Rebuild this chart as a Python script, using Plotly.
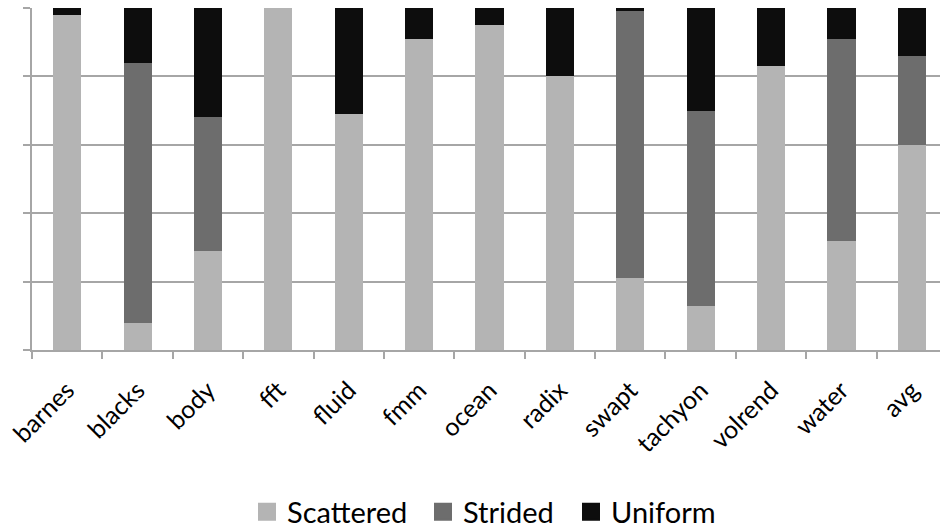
import plotly.graph_objects as go

categories = ["barnes", "blacks", "body", "fft", "fluid", "fmm", "ocean",
              "radix", "swapt", "tachyon", "volrend", "water", "avg"]
scattered = [98, 8, 29, 100, 69, 91, 95, 80, 21, 13, 83, 32, 60]
strided = [0, 76, 39, 0, 0, 0, 0, 0, 78, 57, 0, 59, 26]
uniform = [2, 16, 32, 0, 31, 9, 5, 20, 1, 30, 17, 9, 14]

series = [("Scattered", scattered, "#b4b4b4"),
          ("Strided", strided, "#6d6d6d"),
          ("Uniform", uniform, "#0d0d0d")]
legend_ids = ["legend", "legend2", "legend3"]
legend_x = [247, 423, 571]  # left edges (px) of the legend entries

fig = go.Figure()
for name, vals, color in series:
    fig.add_trace(go.Bar(x=categories, y=vals, name=name, marker_color=color,
                         marker_line_width=0, width=0.4, showlegend=False))
for (name, vals, color), lid in zip(series, legend_ids):
    fig.add_trace(go.Scatter(x=[None], y=[None], mode="markers", name=name, legend=lid,
                             marker=dict(symbol="square", size=16, color=color,
                                         line=dict(width=2, color=color))))

grid = "#a6a6a6"
fig.update_layout(
    width=940, height=529,
    barmode="stack",
    plot_bgcolor="white", paper_bgcolor="white",
    margin=dict(l=32, r=0, t=8, b=179),
    font=dict(family="Lato, Carlito, sans-serif", color="black"),
    xaxis=dict(range=[-0.5, 12.4], showline=True, linecolor=grid, linewidth=1.5,
               ticks="outside", tickson="boundaries", ticklen=7, tickcolor=grid,
               tickwidth=1.5, tickangle=-45, tickfont=dict(size=25, color="black"),
               ticklabelstandoff=14, showgrid=False, automargin=False),
    yaxis=dict(range=[0, 100], dtick=20, showline=True, linecolor=grid, linewidth=1.5,
               ticks="outside", ticklen=7, tickcolor=grid, tickwidth=1.5,
               showticklabels=False, showgrid=True, gridcolor=grid, gridwidth=1.5,
               zeroline=False),
)
for lid, lx in zip(legend_ids, legend_x):
    fig.update_layout({lid: dict(orientation="h", xref="container", x=lx / 940,
                                 xanchor="left", yref="container",
                                 y=(529 - 512) / 529, yanchor="middle",
                                 font=dict(size=29, color="black"),
                                 bgcolor="rgba(0,0,0,0)")})

fig.write_html("out.html", config={"displayModeBar": False},
               post_script="document.body.style.margin='0';document.body.style.overflow='hidden';")
